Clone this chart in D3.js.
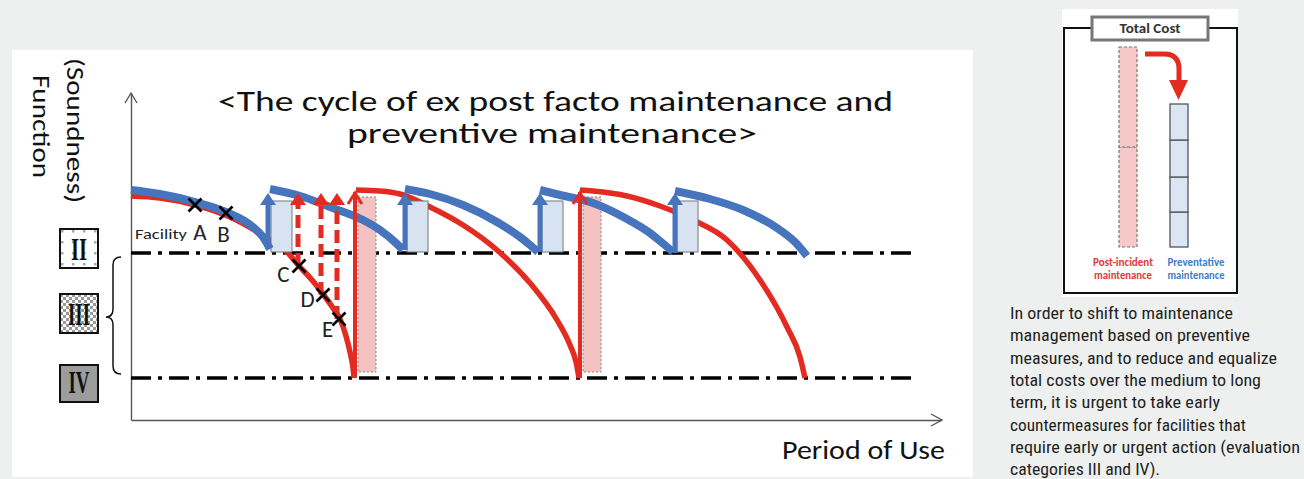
<!DOCTYPE html>
<html><head><meta charset="utf-8">
<script src="https://cdn.jsdelivr.net/npm/d3@7"></script>
<style>body{margin:0;background:#eef0f0;} svg{display:block}</style>
</head><body><svg id="c" width="1304" height="479"></svg>
<script>
// ---------- DATA (period of use, soundness) ----------
const preventive1 = [[0,23.0],[2.9,22.6],[6.4,21.8],[9.5,20.8],[12.2,19.3],[13.2,18.3],[13.9,17.1]];
const preventive2 = [[13.9,23.1],[16.9,22.4],[19.9,21.3],[23.2,20.0],[24.9,19.0],[26.6,17.6],[27.2,17.0]];
const preventive3 = [[27.4,23.1],[29.9,22.6],[33.2,21.5],[36.6,19.8],[38.9,18.3],[39.9,17.5],[40.7,16.8]];
const preventive4 = [[40.9,23.0],[42.9,22.5],[46.2,21.7],[49.6,20.1],[51.9,18.7],[52.9,17.9],[54.2,16.8]];
const preventive5 = [[54.4,22.9],[57.9,22.1],[61.2,21.0],[64.6,19.2],[66.4,17.8],[67.6,16.4]];
const postIncident1 = [[0,22.4],[2.9,22.2],[6.4,21.5],[9.9,20.3],[13.6,18.2],[15.6,16.8],[16.8,15.4],[18.1,14.0],[19.2,12.6],[20.2,11.2],[20.9,10.1],[21.5,8.4],[21.9,6.8],[22.2,5.2],[22.3,4.2]];
const postIncident2 = [[22.5,23.0],[24.9,22.9],[26.9,22.6],[29.9,21.3],[33.2,19.5],[36.6,17.0],[39.9,13.7],[42.6,10.0],[43.9,7.5],[44.5,5.8],[44.8,4.2]];
const postIncident3 = [[44.9,23.0],[46.2,22.9],[49.6,22.4],[52.9,21.4],[56.2,20.0],[59.6,18.0],[62.9,14.0],[65.6,9.3],[66.9,6.3],[67.4,4.2]];
const preventiveRepairX = [13.7, 27.4, 40.9, 54.4];
const preventiveRepairFrom = [17.1, 17.0, 16.8, 16.7];
const preventiveCostX = [14.0, 27.6, 41.1, 54.6];
const preventiveCostWidth = 2.1;
const preventiveCostRange = [16.8, 21.9];
const postRepairX = [22.4, 44.9];
const postRepairRange = [4.2, 22.8];
const postCostX = [22.7, 45.2];
const postCostWidth = 1.8;
const postCostRange = [4.8, 22.3];
const earlyRepairX = [16.7, 19.0, 20.6];
const earlyRepairFrom = [15.4, 12.5, 10.1];
const repairTop = 22.7;
const facilityNames = ["A","B","C","D","E"];
const facilityPoints = [[6.4,21.5],[9.5,20.7],[16.8,15.4],[19.2,12.5],[20.8,10.1]];
const levelLines = [16.7, 4.2];
const levelEnd = 78.7;
const categoryLabels = ["II","III","IV"];
const postIncidentCosts = [100, 100];
const preventiveCosts = [35, 35, 37, 36];
const titleLines = ["<The cycle of ex post facto maintenance and", "preventive maintenance>"];
const noteLines = ["In order to shift to maintenance","management based on preventive","measures, and to reduce and equalize","total costs over the medium to long","term, it is urgent to take early","countermeasures for facilities that","require early or urgent action (evaluation","categories III and IV)."];

// ---------- DRAW ----------
const svg = d3.select("#c");
const RED = "#e32b22", BLUE = "#4675bd";
const FONT = "Carlito, Lato, 'Open Sans', sans-serif";

const defs = svg.append("defs");
const pd = defs.append("pattern").attr("id","dots").attr("patternUnits","userSpaceOnUse").attr("width",11).attr("height",11).attr("x",60).attr("y",229);
pd.append("rect").attr("width",11).attr("height",11).attr("fill","#fff");
pd.append("rect").attr("x",1).attr("y",1).attr("width",2.5).attr("height",2.5).attr("fill","#aaa");
const pc = defs.append("pattern").attr("id","checker").attr("patternUnits","userSpaceOnUse").attr("width",6).attr("height",6);
pc.append("rect").attr("width",6).attr("height",6).attr("fill","#fff");
pc.append("rect").attr("width",3).attr("height",3).attr("fill","#9a9a9a");
pc.append("rect").attr("x",3).attr("y",3).attr("width",3).attr("height",3).attr("fill","#9a9a9a");

svg.append("rect").attr("x",12).attr("y",50).attr("width",961).attr("height",427).attr("fill","#fff");
svg.append("rect").attr("x",1062).attr("y",9).attr("width",176).attr("height",288).attr("fill","#fff");

const x = d3.scaleLinear().domain([0,81]).range([131,941]);
const y = d3.scaleLinear().domain([0,32.7]).range([420,93]);

// axes
const gx = svg.append("g").attr("transform","translate(0,420)").call(d3.axisBottom(x).tickValues([]).tickSizeOuter(0));
const gy = svg.append("g").attr("transform","translate(131,0)").call(d3.axisLeft(y).tickValues([]).tickSizeOuter(0));
[gx,gy].forEach(g=>g.select(".domain").attr("stroke","#555").attr("stroke-width",1.4));
svg.append("path").attr("d",`M${x(0)-6},${y(32.7)+10}L${x(0)},${y(32.7)}L${x(0)+6},${y(32.7)+10}`).attr("fill","none").attr("stroke","#555").attr("stroke-width",1.4);
svg.append("path").attr("d",`M${x(81)-10},${y(0)-6}L${x(81)+1},${y(0)}L${x(81)-10},${y(0)+6}`).attr("fill","none").attr("stroke","#555").attr("stroke-width",1.4);

// level lines
svg.selectAll(".lvl").data(levelLines).join("line").attr("class","lvl")
  .attr("x1",x(0)).attr("x2",x(levelEnd)).attr("y1",d=>y(d)).attr("y2",d=>y(d))
  .attr("stroke","#000").attr("stroke-width",3.5).attr("stroke-dasharray","20,7,4,7");

const line = d3.line().x(d=>x(d[0])).y(d=>y(d[1])).curve(d3.curveMonotoneX);

// post-incident curves
[postIncident1, postIncident2, postIncident3].forEach(s=>{
  svg.append("path").attr("d",line(s)).attr("fill","none").attr("stroke",RED).attr("stroke-width",5.5);
});
// post-incident cost bars
svg.selectAll(".pc").data(postCostX).join("rect").attr("class","pc")
  .attr("x",d=>x(d)).attr("width",x(postCostWidth)-x(0))
  .attr("y",y(postCostRange[1])).attr("height",y(postCostRange[0])-y(postCostRange[1]))
  .attr("fill","#f5c2c2").attr("stroke","#888").attr("stroke-width",1).attr("stroke-dasharray","2,2");
// preventive cost bars
svg.selectAll(".bc").data(preventiveCostX).join("rect").attr("class","bc")
  .attr("x",d=>x(d)).attr("width",x(preventiveCostWidth)-x(0))
  .attr("y",y(preventiveCostRange[1])).attr("height",y(preventiveCostRange[0])-y(preventiveCostRange[1]))
  .attr("fill","#d7e3f1").attr("stroke","#777").attr("stroke-width",1);
// preventive curves
[preventive1, preventive2, preventive3, preventive4, preventive5].forEach(s=>{
  svg.append("path").attr("d",line(s)).attr("fill","none").attr("stroke",BLUE).attr("stroke-width",8);
});
// preventive arrows
preventiveRepairX.forEach((px,i)=>{
  const X = x(px), top = y(repairTop);
  svg.append("line").attr("x1",X).attr("x2",X).attr("y1",y(preventiveRepairFrom[i])).attr("y2",top+10).attr("stroke",BLUE).attr("stroke-width",5);
  svg.append("path").attr("d",`M${X-8},${top+12}L${X},${top}L${X+8},${top+12}Z`).attr("fill",BLUE);
});
// post-incident solid arrows
postRepairX.forEach(px=>{
  const X = x(px);
  svg.append("line").attr("x1",X).attr("x2",X).attr("y1",y(postRepairRange[0])).attr("y2",y(postRepairRange[1])).attr("stroke",RED).attr("stroke-width",4);
  svg.append("path").attr("d",`M${X-7},${y(postRepairRange[1])+12}L${X},${y(postRepairRange[1])+1}L${X+7},${y(postRepairRange[1])+12}`).attr("fill","none").attr("stroke",RED).attr("stroke-width",3);
});
// early repair dashed arrows
earlyRepairX.forEach((px,i)=>{
  const X = x(px), top = y(repairTop);
  svg.append("line").attr("x1",X).attr("x2",X).attr("y1",y(earlyRepairFrom[i])).attr("y2",top+11).attr("stroke",RED).attr("stroke-width",5).attr("stroke-dasharray","13,6");
  svg.append("path").attr("d",`M${X-8},${top+12}L${X},${top}L${X+8},${top+12}Z`).attr("fill",RED);
});
// facility marks
const labelOffsets = [[5,35],[-2.5,29],[-15.5,16],[-15.5,12],[-11.5,18]];
facilityPoints.forEach((p,i)=>{
  const X = x(p[0]), Y = y(p[1]), s = 6.5;
  svg.append("path").attr("d",`M${X-s},${Y-s}L${X+s},${Y+s}M${X-s},${Y+s}L${X+s},${Y-s}`).attr("stroke","#000").attr("stroke-width",2.7);
  svg.append("text").attr("x",X+labelOffsets[i][0]).attr("y",Y+labelOffsets[i][1]).attr("text-anchor","middle")
    .attr("font-family",FONT).attr("font-weight",300).attr("font-size",23).attr("fill","#222").text(facilityNames[i]);
});
svg.append("text").attr("x",135).attr("y",239).attr("font-family",FONT).attr("font-size",14.5).attr("fill","#222")
  .attr("textLength",52).attr("lengthAdjust","spacingAndGlyphs").text("Facility");

// titles
const tl = [[218,111,675],[347,143,410]];
titleLines.forEach((t,i)=>{
  svg.append("text").attr("x",tl[i][0]).attr("y",tl[i][1]).attr("font-family",FONT).attr("font-size",28).attr("fill","#111")
    .attr("textLength",tl[i][2]).attr("lengthAdjust","spacingAndGlyphs").text(t);
});
svg.append("text").attr("x",782).attr("y",459).attr("font-family",FONT).attr("font-size",26).attr("fill","#111")
  .attr("textLength",163).attr("lengthAdjust","spacingAndGlyphs").text("Period of Use");
svg.append("text").attr("transform","translate(67,58) rotate(90)").attr("font-family",FONT).attr("font-size",24).attr("fill","#111")
  .attr("textLength",145).attr("lengthAdjust","spacingAndGlyphs").text("(Soundness)");
svg.append("text").attr("transform","translate(33,75) rotate(90)").attr("font-family",FONT).attr("font-size",24).attr("fill","#111")
  .attr("textLength",103).attr("lengthAdjust","spacingAndGlyphs").text("Function");

// category boxes
const boxes = [[229,39,"url(#dots)",260,16],[294,39,"url(#checker)",325,22],[365,37,"#9c9c9c",393,21]];
categoryLabels.forEach((c,i)=>{
  const b = boxes[i];
  svg.append("rect").attr("x",60).attr("y",b[0]).attr("width",38).attr("height",b[1]).attr("fill",b[2]).attr("stroke","#111").attr("stroke-width",2);
  svg.append("text").attr("x",79).attr("y",b[3]).attr("text-anchor","middle").attr("font-family","'Liberation Serif','DejaVu Serif',serif")
    .attr("font-weight","bold").attr("font-size",32).attr("fill","#111").attr("textLength",b[4]).attr("lengthAdjust","spacingAndGlyphs").text(c);
});
svg.append("path").attr("d","M121,257 Q113,257 113,265 V309 Q113,317 106,317 Q113,317 113,325 V366 Q113,374 121,374")
  .attr("fill","none").attr("stroke","#111").attr("stroke-width",1.5);

// ---------- INSET ----------
svg.append("path").attr("d","M1092,28H1064V293H1237V28H1208").attr("fill","none").attr("stroke","#111").attr("stroke-width",2);
svg.append("rect").attr("x",1092).attr("y",17).attr("width",116).attr("height",23).attr("fill","#fff").attr("stroke","#777").attr("stroke-width",3);
svg.append("text").attr("x",1150).attr("y",33).attr("text-anchor","middle").attr("font-family",FONT).attr("font-weight","bold")
  .attr("font-size",14).attr("fill","#333").attr("textLength",61).attr("lengthAdjust","spacingAndGlyphs").text("Total Cost");
const cy = d3.scaleLinear().domain([0,200]).range([247,47]);
let acc = 0;
postIncidentCosts.forEach(v=>{
  svg.append("rect").attr("x",1119).attr("y",cy(acc+v)).attr("width",18).attr("height",cy(acc)-cy(acc+v))
    .attr("fill","#f6c8c8").attr("stroke","#777").attr("stroke-width",1.2).attr("stroke-dasharray","3,2");
  acc += v;
});
acc = 0;
preventiveCosts.forEach(v=>{
  svg.append("rect").attr("x",1170).attr("y",cy(acc+v)).attr("width",18).attr("height",cy(acc)-cy(acc+v))
    .attr("fill","#dae6f3").attr("stroke","#555").attr("stroke-width",1.3);
  acc += v;
});
svg.append("path").attr("d","M1145,54H1164Q1179,54 1179,69V82").attr("fill","none").attr("stroke",RED).attr("stroke-width",5);
svg.append("path").attr("d","M1169,80L1188,80L1178.5,100Z").attr("fill",RED);
[["Post-incident",1123,266,60,"#e0393b"],["maintenance",1123,279,58,"#e0393b"],["Preventative",1196,266,57,"#3d80c3"],["maintenance",1196,279,57,"#3d80c3"]].forEach(t=>{
  svg.append("text").attr("x",t[1]).attr("y",t[2]).attr("text-anchor","middle").attr("font-family",FONT).attr("font-weight","bold")
    .attr("font-size",11).attr("fill",t[4]).attr("textLength",t[3]).attr("lengthAdjust","spacingAndGlyphs").text(t[0]);
});
const noteW = [223,240,267,251,210,236,290,150];
noteLines.forEach((t,i)=>{
  svg.append("text").attr("x",1010).attr("y",319+22.3*i).attr("font-family","'Liberation Sans Narrow','Roboto Condensed',Roboto,sans-serif")
    .attr("font-size",17).attr("fill","#231f20").attr("textLength",noteW[i]).attr("lengthAdjust","spacingAndGlyphs").text(t);
});
</script></body></html>
